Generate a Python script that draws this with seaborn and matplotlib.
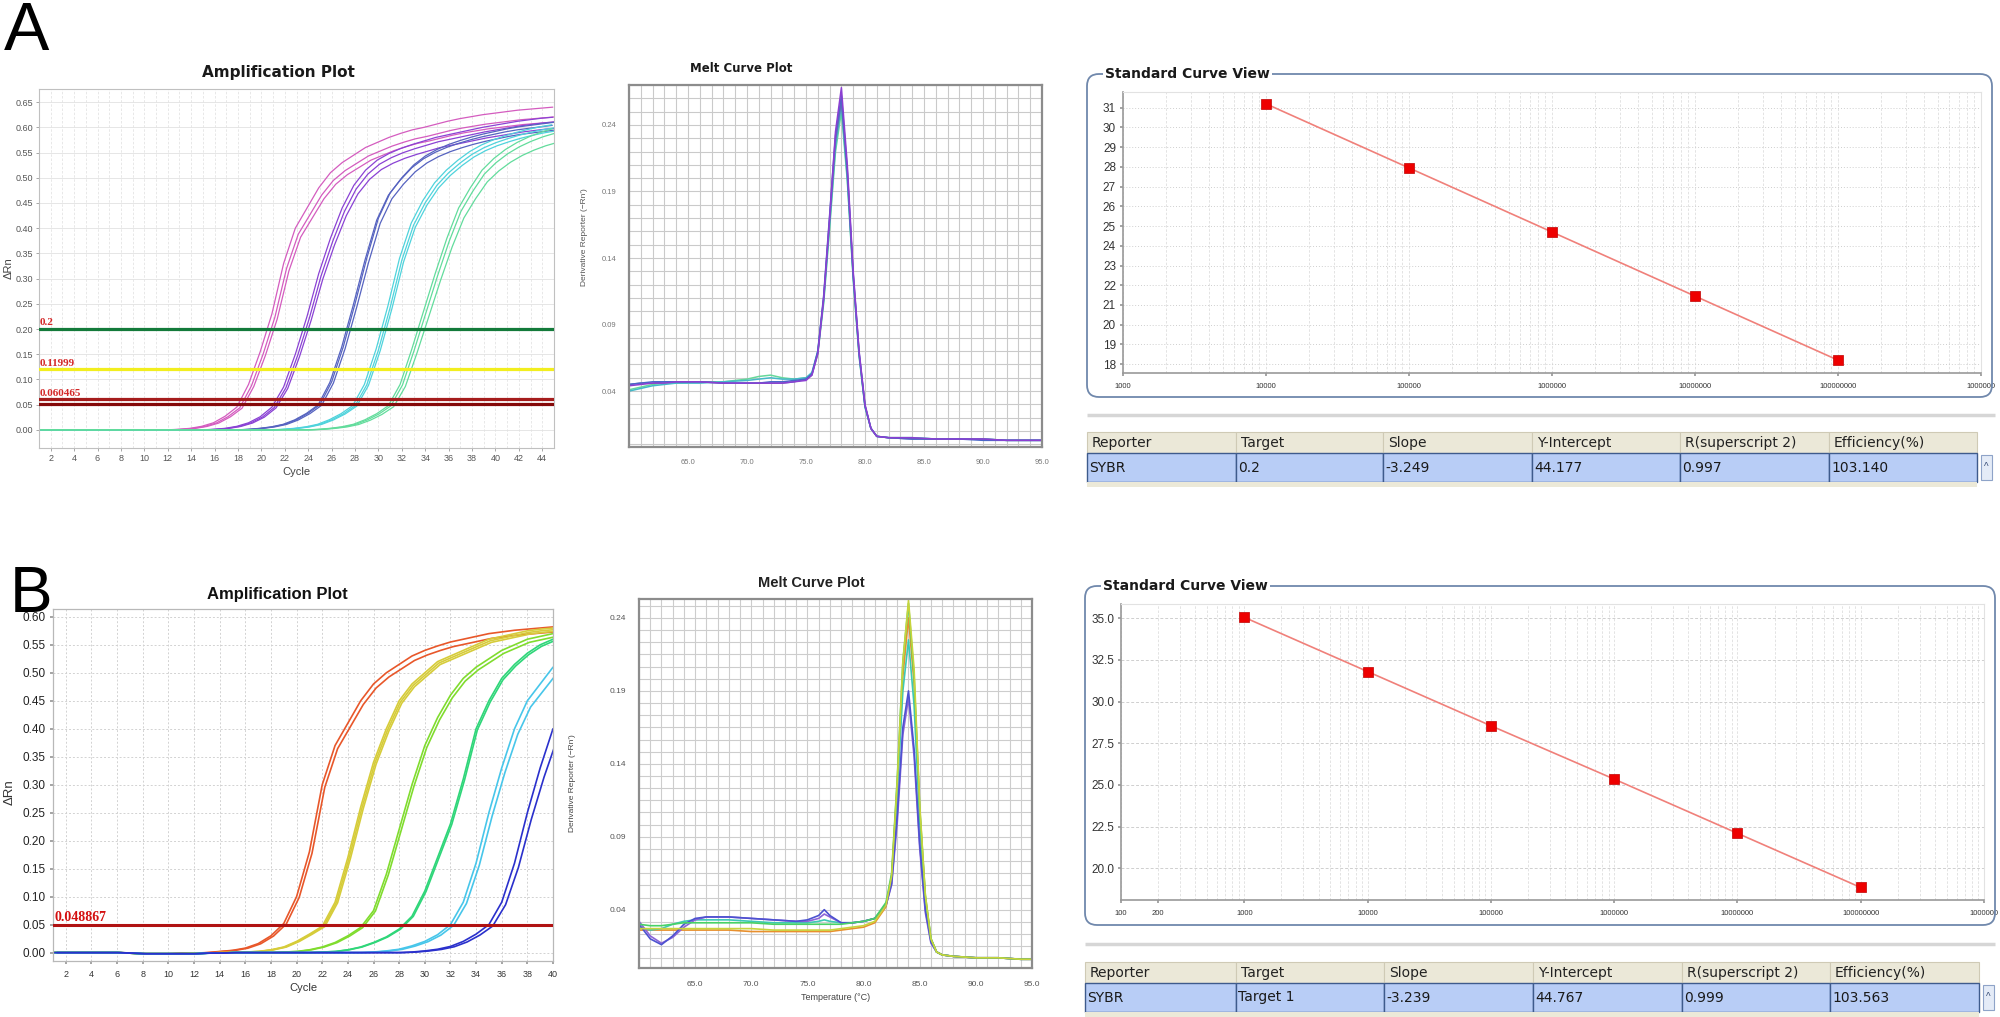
import numpy as np
import pandas as pd
import matplotlib.pyplot as plt
import seaborn as sns
from matplotlib import font_manager
from matplotlib.patches import Rectangle, FancyBboxPatch
from matplotlib.ticker import MultipleLocator, FixedLocator, NullFormatter, LogLocator

# --------------------------
# 1. Values
# --------------------------
# Panel A amplification, delta Rn per cycle (one list per dilution)
cycles_a = list(range(1, 46))
amp_a_pink = [0, 0, 0, 0, 0, 0, 0, 0, 0, 0, 0, 0,
              0.001, 0.003, 0.007, 0.014, 0.027, 0.045, 0.09, 0.155, 0.23, 0.33, 0.40, 0.44,
              0.48, 0.51, 0.53, 0.545, 0.56, 0.57, 0.58, 0.588, 0.595, 0.60, 0.606, 0.612,
              0.617, 0.621, 0.625, 0.628, 0.631, 0.634, 0.636, 0.638, 0.64]
amp_a_purple = [0, 0, 0, 0, 0, 0, 0, 0, 0, 0, 0, 0, 0, 0, 0,
                0.001, 0.003, 0.007, 0.014, 0.026, 0.045, 0.085, 0.15, 0.225, 0.31, 0.38, 0.44,
                0.485, 0.515, 0.535, 0.548, 0.558, 0.566, 0.573, 0.58, 0.585, 0.59, 0.595, 0.60,
                0.604, 0.608, 0.612, 0.615, 0.618, 0.62]
amp_a_blue = [0, 0, 0, 0, 0, 0, 0, 0, 0, 0, 0, 0, 0, 0, 0, 0, 0, 0,
              0.001, 0.003, 0.006, 0.011, 0.02, 0.033, 0.05, 0.095, 0.165, 0.25, 0.34, 0.42,
              0.47, 0.50, 0.525, 0.543, 0.556, 0.566, 0.574, 0.581, 0.587, 0.592, 0.597, 0.601,
              0.604, 0.607, 0.61]
amp_a_cyan = [0, 0, 0, 0, 0, 0, 0, 0, 0, 0, 0, 0, 0, 0, 0, 0, 0, 0, 0, 0, 0,
              0.001, 0.003, 0.006, 0.011, 0.02, 0.032, 0.048, 0.09, 0.16, 0.245, 0.34, 0.41,
              0.455, 0.49, 0.515, 0.535, 0.552, 0.565, 0.575, 0.583, 0.59, 0.596, 0.601, 0.605]
amp_a_green = [0, 0, 0, 0, 0, 0, 0, 0, 0, 0, 0, 0, 0, 0, 0, 0, 0, 0, 0, 0, 0, 0, 0, 0,
               0.001, 0.003, 0.006, 0.011, 0.02, 0.032, 0.048, 0.09, 0.16, 0.235, 0.31, 0.38,
               0.44, 0.48, 0.515, 0.538, 0.556, 0.57, 0.581, 0.59, 0.597]
# replicate offsets (cycles) and plateau factors
amp_a_shift = {'pink': [-0.1, 0.15, 0.35], 'purple': [-0.1, 0.1, 0.25], 'blue': [-0.15, 0.0, 0.15],
               'cyan': [-0.2, 0.0, 0.15], 'green': [-0.15, 0.05, 0.3]}
amp_a_scale = {'pink': [1.0, 0.97, 0.955], 'purple': [1.0, 0.985, 0.965], 'blue': [0.99, 1.0, 0.975],
               'cyan': [1.0, 0.99, 0.98], 'green': [1.0, 0.985, 0.955]}
thr_a_values = [0.2, 0.11999, 0.060465, 0.052]
thr_a_labels = ['0.2', '0.11999', '0.060465', '']

# Panel B amplification
cycles_b = list(range(1, 41))
amp_b_red = [0, 0, 0, 0, 0, 0, -0.001, -0.002, -0.002, -0.002, -0.001, -0.001, 0.0,
             0.002, 0.004, 0.008, 0.016, 0.03, 0.052, 0.10, 0.18, 0.30, 0.37, 0.41, 0.45, 0.48,
             0.50, 0.515, 0.53, 0.54, 0.548, 0.555, 0.56, 0.565, 0.57, 0.573, 0.576, 0.578,
             0.58, 0.582]
amp_b_yellow = [0, 0, 0, 0, 0, 0, -0.001, -0.002, -0.002, -0.002, -0.002, -0.001, -0.001, 0, 0,
                0.001, 0.002, 0.005, 0.01, 0.02, 0.033, 0.047, 0.09, 0.17, 0.26, 0.34, 0.40,
                0.45, 0.48, 0.50, 0.52, 0.53, 0.54, 0.55, 0.56, 0.565, 0.57, 0.575, 0.578, 0.58]
amp_b_lime = [0, 0, 0, 0, 0, 0, -0.001, -0.002, -0.002, -0.002, -0.002, -0.002, -0.001, -0.001,
              0, 0, 0, 0, 0.001, 0.002, 0.005, 0.01, 0.018, 0.03, 0.045, 0.075, 0.14, 0.22,
              0.30, 0.37, 0.42, 0.46, 0.49, 0.51, 0.525, 0.54, 0.55, 0.56, 0.565, 0.57]
amp_b_green = [0, 0, 0, 0, 0, 0, -0.001, -0.002, -0.002, -0.002, -0.002, -0.002, -0.001, -0.001,
               0, 0, 0, 0, 0, 0, 0, 0.001, 0.002, 0.005, 0.01, 0.018, 0.028, 0.042, 0.065,
               0.11, 0.17, 0.23, 0.31, 0.40, 0.45, 0.49, 0.515, 0.535, 0.55, 0.56]
amp_b_cyan = [0, 0, 0, 0, 0, 0, -0.001, -0.002, -0.002, -0.002, -0.002, -0.002, -0.001, -0.001,
              0, 0, 0, 0, 0, 0, 0, 0, 0, 0, 0, 0.001, 0.003, 0.006, 0.012, 0.02, 0.032, 0.05,
              0.09, 0.16, 0.25, 0.33, 0.40, 0.45, 0.48, 0.51]
amp_b_blue = [0, 0, 0, 0, 0, 0, -0.001, -0.002, -0.002, -0.002, -0.002, -0.002, -0.001, -0.001,
              0, 0, 0, 0, 0, 0, 0, 0, 0, 0, 0, 0, 0, 0,
              0.001, 0.003, 0.006, 0.011, 0.02, 0.033, 0.05, 0.09, 0.16, 0.25, 0.33, 0.40]
amp_b_shift = {'red': [0.0, 0.2], 'yellow': [0.0, 0.1, 0.2], 'lime': [0.0, 0.15],
               'green': [0.0, 0.1], 'cyan': [0.0, 0.25], 'blue': [0.0, 0.3]}
amp_b_scale = {'red': [1.0, 0.985], 'yellow': [1.0, 0.995, 0.99], 'lime': [1.0, 0.99],
               'green': [1.0, 0.995], 'cyan': [1.0, 0.975], 'blue': [1.0, 0.95]}
thr_b_value = 0.048867
thr_b_label = '0.048867'

# Melt curves, derivative reporter vs temperature
melt_a_temp = [60, 61, 62, 63, 64, 66, 68, 70, 71, 72, 73, 74, 75, 75.5, 76, 76.5, 77, 77.5,
               78, 78.5, 79, 79.5, 80, 80.5, 81, 82, 84, 86, 88, 90, 92, 94, 95]
melt_a_purple = [0.044, 0.045, 0.046, 0.046, 0.047, 0.047, 0.046, 0.046, 0.046, 0.046, 0.046,
                 0.047, 0.048, 0.052, 0.068, 0.11, 0.17, 0.235, 0.268, 0.21, 0.13, 0.07, 0.03,
                 0.012, 0.006, 0.005, 0.005, 0.004, 0.004, 0.004, 0.003, 0.003, 0.003]
melt_a_blue = [0.045, 0.046, 0.047, 0.047, 0.047, 0.047, 0.046, 0.046, 0.046, 0.047, 0.047,
               0.048, 0.049, 0.053, 0.07, 0.112, 0.172, 0.232, 0.262, 0.206, 0.128, 0.069, 0.029,
               0.012, 0.006, 0.005, 0.004, 0.004, 0.004, 0.003, 0.003, 0.003, 0.003]
melt_a_slate = [0.045, 0.046, 0.046, 0.047, 0.047, 0.047, 0.046, 0.046, 0.046, 0.046, 0.046,
                0.047, 0.049, 0.052, 0.069, 0.11, 0.168, 0.228, 0.258, 0.204, 0.127, 0.068, 0.029,
                0.012, 0.006, 0.005, 0.004, 0.004, 0.004, 0.004, 0.003, 0.003, 0.003]
melt_a_teal = [0.040, 0.042, 0.044, 0.045, 0.046, 0.046, 0.047, 0.048, 0.049, 0.050, 0.049,
               0.049, 0.050, 0.054, 0.07, 0.108, 0.165, 0.224, 0.255, 0.2, 0.125, 0.067, 0.028,
               0.012, 0.006, 0.005, 0.005, 0.004, 0.004, 0.004, 0.003, 0.003, 0.003]
melt_a_green = [0.041, 0.043, 0.045, 0.046, 0.046, 0.047, 0.047, 0.049, 0.051, 0.052, 0.050,
                0.049, 0.050, 0.053, 0.068, 0.106, 0.162, 0.22, 0.25, 0.198, 0.124, 0.066, 0.028,
                0.012, 0.006, 0.005, 0.005, 0.004, 0.004, 0.004, 0.003, 0.003, 0.003]

melt_b_temp = [60, 61, 62, 63, 64, 65, 66, 68, 70, 72, 74, 75, 76, 76.5, 77, 78, 79, 80,
               81, 82, 82.5, 83, 83.5, 84, 84.5, 85, 85.5, 86, 86.5, 87, 88, 90, 92, 94, 95]
melt_b_orange = [0.026, 0.026, 0.026, 0.026, 0.026, 0.026, 0.026, 0.026, 0.025, 0.025, 0.025, 0.025,
                 0.025, 0.025, 0.025, 0.026, 0.027, 0.028, 0.031, 0.042, 0.062, 0.125, 0.2, 0.24,
                 0.195, 0.108, 0.048, 0.02, 0.011, 0.009, 0.008, 0.007, 0.007, 0.006, 0.006]
melt_b_yellow = [0.027, 0.027, 0.027, 0.027, 0.027, 0.027, 0.027, 0.027, 0.027, 0.026, 0.026, 0.026,
                 0.026, 0.026, 0.026, 0.027, 0.028, 0.029, 0.032, 0.043, 0.063, 0.128, 0.21, 0.252,
                 0.205, 0.112, 0.05, 0.02, 0.011, 0.009, 0.008, 0.007, 0.007, 0.006, 0.006]
melt_b_green = [0.030, 0.029, 0.029, 0.030, 0.031, 0.031, 0.031, 0.031, 0.031, 0.030, 0.030, 0.030,
                0.030, 0.030, 0.030, 0.030, 0.031, 0.032, 0.034, 0.045, 0.065, 0.13, 0.21, 0.25,
                0.20, 0.11, 0.05, 0.02, 0.011, 0.009, 0.008, 0.007, 0.007, 0.006, 0.006]
melt_b_teal = [0.028, 0.026, 0.027, 0.030, 0.032, 0.033, 0.033, 0.033, 0.032, 0.031, 0.031, 0.031,
               0.032, 0.033, 0.032, 0.031, 0.031, 0.032, 0.034, 0.044, 0.062, 0.12, 0.19, 0.225,
               0.18, 0.10, 0.046, 0.02, 0.011, 0.009, 0.008, 0.007, 0.007, 0.006, 0.006]
melt_b_blue = [0.030, 0.020, 0.016, 0.022, 0.030, 0.034, 0.035, 0.035, 0.034, 0.033, 0.032, 0.033,
               0.036, 0.040, 0.036, 0.031, 0.031, 0.032, 0.034, 0.043, 0.058, 0.105, 0.165, 0.19,
               0.15, 0.085, 0.04, 0.018, 0.011, 0.009, 0.008, 0.007, 0.007, 0.006, 0.006]
melt_b_purple = [0.032, 0.022, 0.017, 0.021, 0.028, 0.033, 0.035, 0.035, 0.034, 0.033, 0.032, 0.032,
                 0.034, 0.037, 0.035, 0.031, 0.031, 0.032, 0.034, 0.043, 0.057, 0.10, 0.16, 0.185,
                 0.145, 0.082, 0.038, 0.017, 0.011, 0.009, 0.008, 0.007, 0.007, 0.006, 0.006]

# Standard curves
std_a_qty = [1e4, 1e5, 1e6, 1e7, 1e8]
std_a_ct = [31.2, 27.95, 24.7, 21.45, 18.2]
std_a_xticks = [1e3, 1e4, 1e5, 1e6, 1e7, 1e8, 1e9]
std_a_xlabels = ['1000', '10000', '100000', '1000000', '10000000', '100000000', '1000000']
std_b_qty = [1e3, 1e4, 1e5, 1e6, 1e7, 1e8]
std_b_ct = [35.05, 31.8, 28.55, 25.35, 22.1, 18.85]
std_b_xticks = [1e2, 2e2, 1e3, 1e4, 1e5, 1e6, 1e7, 1e8, 1e9]
std_b_xlabels = ['100', '200', '1000', '10000', '100000', '1000000', '10000000', '100000000',
                 '1000000']

table_header = ['Reporter', 'Target', 'Slope', 'Y-Intercept', 'R(superscript 2)', 'Efficiency(%)']
table_a_row = ['SYBR', '0.2', '-3.249', '44.177', '0.997', '103.140']
table_b_row = ['SYBR', 'Target 1', '-3.239', '44.767', '0.999', '103.563']

# --------------------------
# 2. Styles
# --------------------------
sns.set_theme(style='white')
installed = {f.name for f in font_manager.fontManager.ttflist}
NARROW = 'Liberation Sans Narrow' if 'Liberation Sans Narrow' in installed else 'DejaVu Sans'
SERIF = ['Liberation Serif', 'DejaVu Serif']
plt.rcParams['font.family'] = ['Liberation Sans', 'DejaVu Sans']

col_a = {'pink': '#d45cbf', 'purple': '#8a42d4', 'blue': '#5663c0', 'cyan': '#4fd3dc', 'green': '#62dc9c'}
col_b = {'red': '#e8572a', 'yellow': '#d6cc3a', 'lime': '#80dc2e', 'green': '#2fd679',
         'cyan': '#47c6ea', 'blue': '#2a30cc'}
thr_a_colors = ['#137a3a', '#f2ee1e', '#a51c1c', '#850a0a']

W, H = 2000, 1017
fig = plt.figure(figsize=(W / 100, H / 100), dpi=100)


def box(x0, y0, x1, y1, **kw):
    # axes from a pixel box (top-left origin)
    return fig.add_axes([x0 / W, 1 - y1 / H, (x1 - x0) / W, (y1 - y0) / H], **kw)


def draw_amp(ax, cycles, groups, colors, shifts, scales, lw):
    for name, vals in groups.items():
        for s, k in zip(shifts[name], scales[name]):
            sns.lineplot(x=np.asarray(cycles, float) + s, y=np.asarray(vals, float) * k, ax=ax,
                         color=colors[name], lw=lw, sort=False, estimator=None, zorder=2)


# --------------------------
# 3. Panel A amplification
# --------------------------
ax = box(39, 89, 554, 448)
draw_amp(ax, cycles_a, {'pink': amp_a_pink, 'purple': amp_a_purple, 'blue': amp_a_blue,
                        'cyan': amp_a_cyan, 'green': amp_a_green},
         col_a, amp_a_shift, amp_a_scale, 0.9)
for v, c, lab in zip(thr_a_values, thr_a_colors, thr_a_labels):
    ax.axhline(v, color=c, lw=2.3, zorder=3)
    if lab:
        ax.text(1.05, v + 0.003, lab, color='#d42828', family=SERIF, fontsize=8, fontweight='bold',
                va='bottom', zorder=4)
ax.set_xlim(1, 45)
ax.set_ylim(-0.036, 0.676)
ax.set_xticks(range(2, 45, 2))
ax.xaxis.set_minor_locator(MultipleLocator(1))
ax.set_yticks(np.arange(0, 0.651, 0.05))
ax.set_yticklabels([f'{t:.2f}' for t in np.arange(0, 0.651, 0.05)])
ax.grid(which='major', axis='y', color='#e2e2e2', lw=0.6)
ax.grid(which='both', axis='x', color='#e4e4e4', lw=0.6, ls=(0, (3, 2)))
ax.tick_params(which='major', labelsize=6.5, labelcolor='#555555', color='#999999',
               length=2.5, width=0.6, pad=2, left=True, bottom=True)
for sp in ax.spines.values():
    sp.set_color('#c0c0c0')
    sp.set_linewidth(0.8)
ax.set_xlabel('Cycle', fontsize=8, color='#444444', labelpad=3)
ax.set_ylabel('ΔRn', fontsize=8, color='#444444')
ax.yaxis.set_label_coords(-0.05, 0.5)

# --------------------------
# 4. Panel A melt curve
# --------------------------
ax = box(629, 85, 1042, 447)
for vals, c in [(melt_a_green, '#66d89a'), (melt_a_teal, '#44b8c8'), (melt_a_slate, '#6a6ab8'),
                (melt_a_blue, '#4a66c8'), (melt_a_purple, '#8c3fd2')]:
    sns.lineplot(x=melt_a_temp, y=vals, ax=ax, color=c, lw=1.1, sort=False, estimator=None, zorder=2)
ax.set_xlim(60, 95)
ax.set_ylim(-0.002, 0.270)
ax.set_xticks(range(65, 96, 5))
ax.set_xticklabels([f'{t:.1f}' for t in range(65, 96, 5)])
ax.xaxis.set_minor_locator(MultipleLocator(1))
ax.yaxis.set_major_locator(FixedLocator([0.04, 0.09, 0.14, 0.19, 0.24]))
ax.set_yticklabels(['0.04', '0.09', '0.14', '0.19', '0.24'])
ax.yaxis.set_minor_locator(MultipleLocator(0.01))
ax.grid(which='both', color='#cacaca', lw=0.8)
ax.tick_params(which='both', length=0, labelsize=5.5, labelcolor='#777777', pad=9)
for sp in ax.spines.values():
    sp.set_color('#8c8c8c')
    sp.set_linewidth(1.6)
ax.set_ylabel("Derivative Reporter (−Rn')", fontsize=6, color='#555555')
ax.yaxis.set_label_coords(-0.1, 0.58)

# --------------------------
# 5. Panel B amplification
# --------------------------
ax = box(53, 609, 553, 961)
draw_amp(ax, cycles_b, {'red': amp_b_red, 'yellow': amp_b_yellow, 'lime': amp_b_lime,
                        'green': amp_b_green, 'cyan': amp_b_cyan, 'blue': amp_b_blue},
         col_b, amp_b_shift, amp_b_scale, 1.2)
ax.axhline(thr_b_value, color='#b01212', lw=2.2, zorder=3)
ax.text(1.15, thr_b_value + 0.003, thr_b_label, color='#d41010', family=SERIF, fontsize=10,
        fontweight='bold', va='bottom', zorder=4)
ax.set_xlim(1, 40)
ax.set_ylim(-0.015, 0.614)
ax.set_xticks(range(2, 41, 2))
ax.set_yticks(np.arange(0, 0.601, 0.05))
ax.set_yticklabels([f'{t:.2f}' for t in np.arange(0, 0.601, 0.05)])
ax.grid(which='major', color='#d2d2d2', lw=0.7, ls=(0, (2, 2)))
ax.tick_params(axis='y', labelsize=8.5, labelcolor='#222222', length=2.5, color='#999999', pad=3, left=True)
ax.tick_params(axis='x', labelsize=6.5, labelcolor='#333333', length=2.5, color='#999999', pad=4, bottom=True)
for sp in ax.spines.values():
    sp.set_color('#b8b8b8')
    sp.set_linewidth(0.9)
ax.set_xlabel('Cycle', fontsize=8, color='#333333', labelpad=3)
ax.set_ylabel('ΔRn', fontsize=9.5, color='#333333')
ax.yaxis.set_label_coords(-0.075, 0.48)

# --------------------------
# 6. Panel B melt curve
# --------------------------
ax = box(639, 599, 1032, 968)
for vals, c in [(melt_b_orange, '#e8902e'), (melt_b_teal, '#3ec8b4'), (melt_b_purple, '#8c64d8'),
                (melt_b_blue, '#4c52d0'), (melt_b_green, '#48d266'), (melt_b_yellow, '#c8d43c')]:
    sns.lineplot(x=melt_b_temp, y=vals, ax=ax, color=c, lw=1.2, sort=False, estimator=None, zorder=2)
ax.set_xlim(60, 95)
ax.set_ylim(0.0, 0.253)
ax.set_xticks(range(65, 96, 5))
ax.set_xticklabels([f'{t:.1f}' for t in range(65, 96, 5)])
ax.xaxis.set_minor_locator(MultipleLocator(1))
ax.yaxis.set_major_locator(FixedLocator([0.04, 0.09, 0.14, 0.19, 0.24]))
ax.set_yticklabels(['0.04', '0.09', '0.14', '0.19', '0.24'])
ax.yaxis.set_minor_locator(FixedLocator(np.arange(0.04 - 4 * 0.05 / 6, 0.253, 0.05 / 6)))
ax.grid(which='both', color='#cdcdcd', lw=0.8)
ax.tick_params(which='both', length=0, labelsize=6, labelcolor='#555555', pad=9)
for sp in ax.spines.values():
    sp.set_color('#8c8c8c')
    sp.set_linewidth(1.6)
ax.set_ylabel("Derivative Reporter (−Rn')", fontsize=6, color='#444444')
ax.yaxis.set_label_coords(-0.16, 0.5)
ax.set_xlabel('Temperature (°C)', fontsize=6.5, color='#444444', labelpad=4)


# --------------------------
# 7. Standard curves
# --------------------------
def std_panel(pbox, qty, ct, xticks, xlabels, xlim, ylim, yticks, ylabels, ygrid_ls):
    ax = box(*pbox)
    df = pd.DataFrame({'qty': qty, 'ct': ct})
    ax.set_xscale('log')
    sns.lineplot(data=df, x='qty', y='ct', ax=ax, color='#f0807a', lw=1.2, zorder=3)
    sns.scatterplot(data=df, x='qty', y='ct', ax=ax, marker='s', s=55, color='#ee0000',
                    edgecolor='#c00000', linewidth=0.5, zorder=4)
    ax.set_xlim(*xlim)
    ax.set_ylim(*ylim)
    ax.xaxis.set_major_locator(FixedLocator(xticks))
    ax.set_xticklabels(xlabels)
    ax.xaxis.set_minor_locator(LogLocator(base=10, subs=range(2, 10), numticks=20))
    ax.xaxis.set_minor_formatter(NullFormatter())
    ax.set_yticks(yticks)
    ax.set_yticklabels(ylabels)
    ax.grid(which='both', axis='x', color='#dedede', lw=0.6, ls=(0, (3, 2)))
    ax.grid(which='major', axis='y', color='#cfcfcf', lw=0.7, ls=ygrid_ls)
    ax.tick_params(axis='y', labelsize=8.5, labelcolor='#333333', length=2, color='#999999', pad=3, left=True)
    ax.tick_params(axis='x', which='major', labelsize=5.5, labelcolor='#333333', length=2,
                   color='#999999', pad=5, bottom=True)
    ax.tick_params(axis='x', which='minor', length=0)
    for name, sp in ax.spines.items():
        sp.set_color('#999999' if name in ('left', 'bottom') else '#e2e2e2')
        sp.set_linewidth(1.2 if name in ('left', 'bottom') else 0.8)
    ax.set_xlabel('')
    ax.set_ylabel('')
    return ax


std_panel((1123, 92, 1981, 373), std_a_qty, std_a_ct, std_a_xticks, std_a_xlabels,
          (1e3, 1e9), (17.55, 31.8), list(range(18, 32)), [str(v) for v in range(18, 32)], (0, (1, 2)))
yb = [20.0, 22.5, 25.0, 27.5, 30.0, 32.5, 35.0]
std_panel((1121, 604, 1984, 900), std_b_qty, std_b_ct, std_b_xticks, std_b_xlabels,
          (1e2, 1e9), (18.1, 35.85), yb, [f'{v:.1f}' for v in yb], (0, (3, 2)))

# --------------------------
# 8. Frames, tables, titles (pixel overlay)
# --------------------------
ov = fig.add_axes([0, 0, 1, 1], zorder=5)
ov.set_xlim(0, W)
ov.set_ylim(H, 0)
ov.axis('off')

ov.text(4, 50, 'A', fontsize=49, color='black', va='baseline', ha='left')
ov.text(10, 612, 'B', fontsize=46, color='black', va='baseline', ha='left')

ov.text(278, 73, 'Amplification Plot', family=NARROW, fontsize=11, fontweight='bold',
        ha='center', va='center', color='#1a1a1a')
ov.text(741, 68, 'Melt Curve Plot', family=NARROW, fontsize=8.5, fontweight='bold',
        ha='center', va='center', color='#1a1a1a')
ov.text(277, 594, 'Amplification Plot', fontsize=12, fontweight='bold',
        ha='center', va='center', color='#111111')
ov.text(811, 583, 'Melt Curve Plot', fontsize=10.5, fontweight='bold',
        ha='center', va='center', color='#222222')


def panel_frame(x0, y0, x1, y1, sep_y, head_y0, head_y1, row_y1, cols, row):
    ov.add_patch(FancyBboxPatch((x0, y0), x1 - x0, y1 - y0,
                                boxstyle='round,pad=0,rounding_size=12',
                                fill=False, ec='#7088ac', lw=1.3))
    ov.text(x0 + 18, y0, 'Standard Curve View', family=NARROW, fontsize=10, fontweight='bold',
            color='#1a1a1a', ha='left', va='center',
            bbox=dict(facecolor='white', edgecolor='none', pad=1.5))
    ov.plot([x0, 1995], [sep_y, sep_y], color='#d6d6d6', lw=2.5, solid_capstyle='butt')
    for i in range(len(cols) - 1):
        ov.add_patch(Rectangle((cols[i], head_y0), cols[i + 1] - cols[i], head_y1 - head_y0,
                               facecolor='#ebe8d8', edgecolor='#cfcab5', lw=0.8))
        ov.add_patch(Rectangle((cols[i], head_y1), cols[i + 1] - cols[i], row_y1 - head_y1,
                               facecolor='#b8cdf6', edgecolor='#3e5b8c', lw=1.0))
        ov.text(cols[i] + 5, (head_y0 + head_y1) / 2, table_header[i], family=NARROW,
                fontsize=10, color='#222222', va='center', ha='left')
        ov.text(cols[i] + 2, (head_y1 + row_y1) / 2, row[i], family=NARROW,
                fontsize=10, color='#1a1a1a', va='center', ha='left')
    ov.add_patch(Rectangle((cols[0], row_y1), cols[-1] - cols[0], 5, facecolor='#ece9d8',
                           edgecolor='none'))
    ov.add_patch(Rectangle((cols[-1] + 4, head_y1 + 2), 11, row_y1 - head_y1 - 4,
                           facecolor='#e4ebf7', edgecolor='#8ea3c8', lw=0.8))
    ov.text(cols[-1] + 9.5, (head_y1 + row_y1) / 2, '^', fontsize=7, color='#3a4f78',
            ha='center', va='center')


panel_frame(1087, 74, 1992, 397, 415, 432, 453, 482,
            [1087, 1236, 1383, 1532, 1680, 1829, 1977], table_a_row)
panel_frame(1085, 586, 1995, 925, 944, 962, 983, 1012,
            [1085, 1236, 1384, 1533, 1682, 1830, 1979], table_b_row)

fig.savefig('out.png', dpi=100)
plt.close(fig)
